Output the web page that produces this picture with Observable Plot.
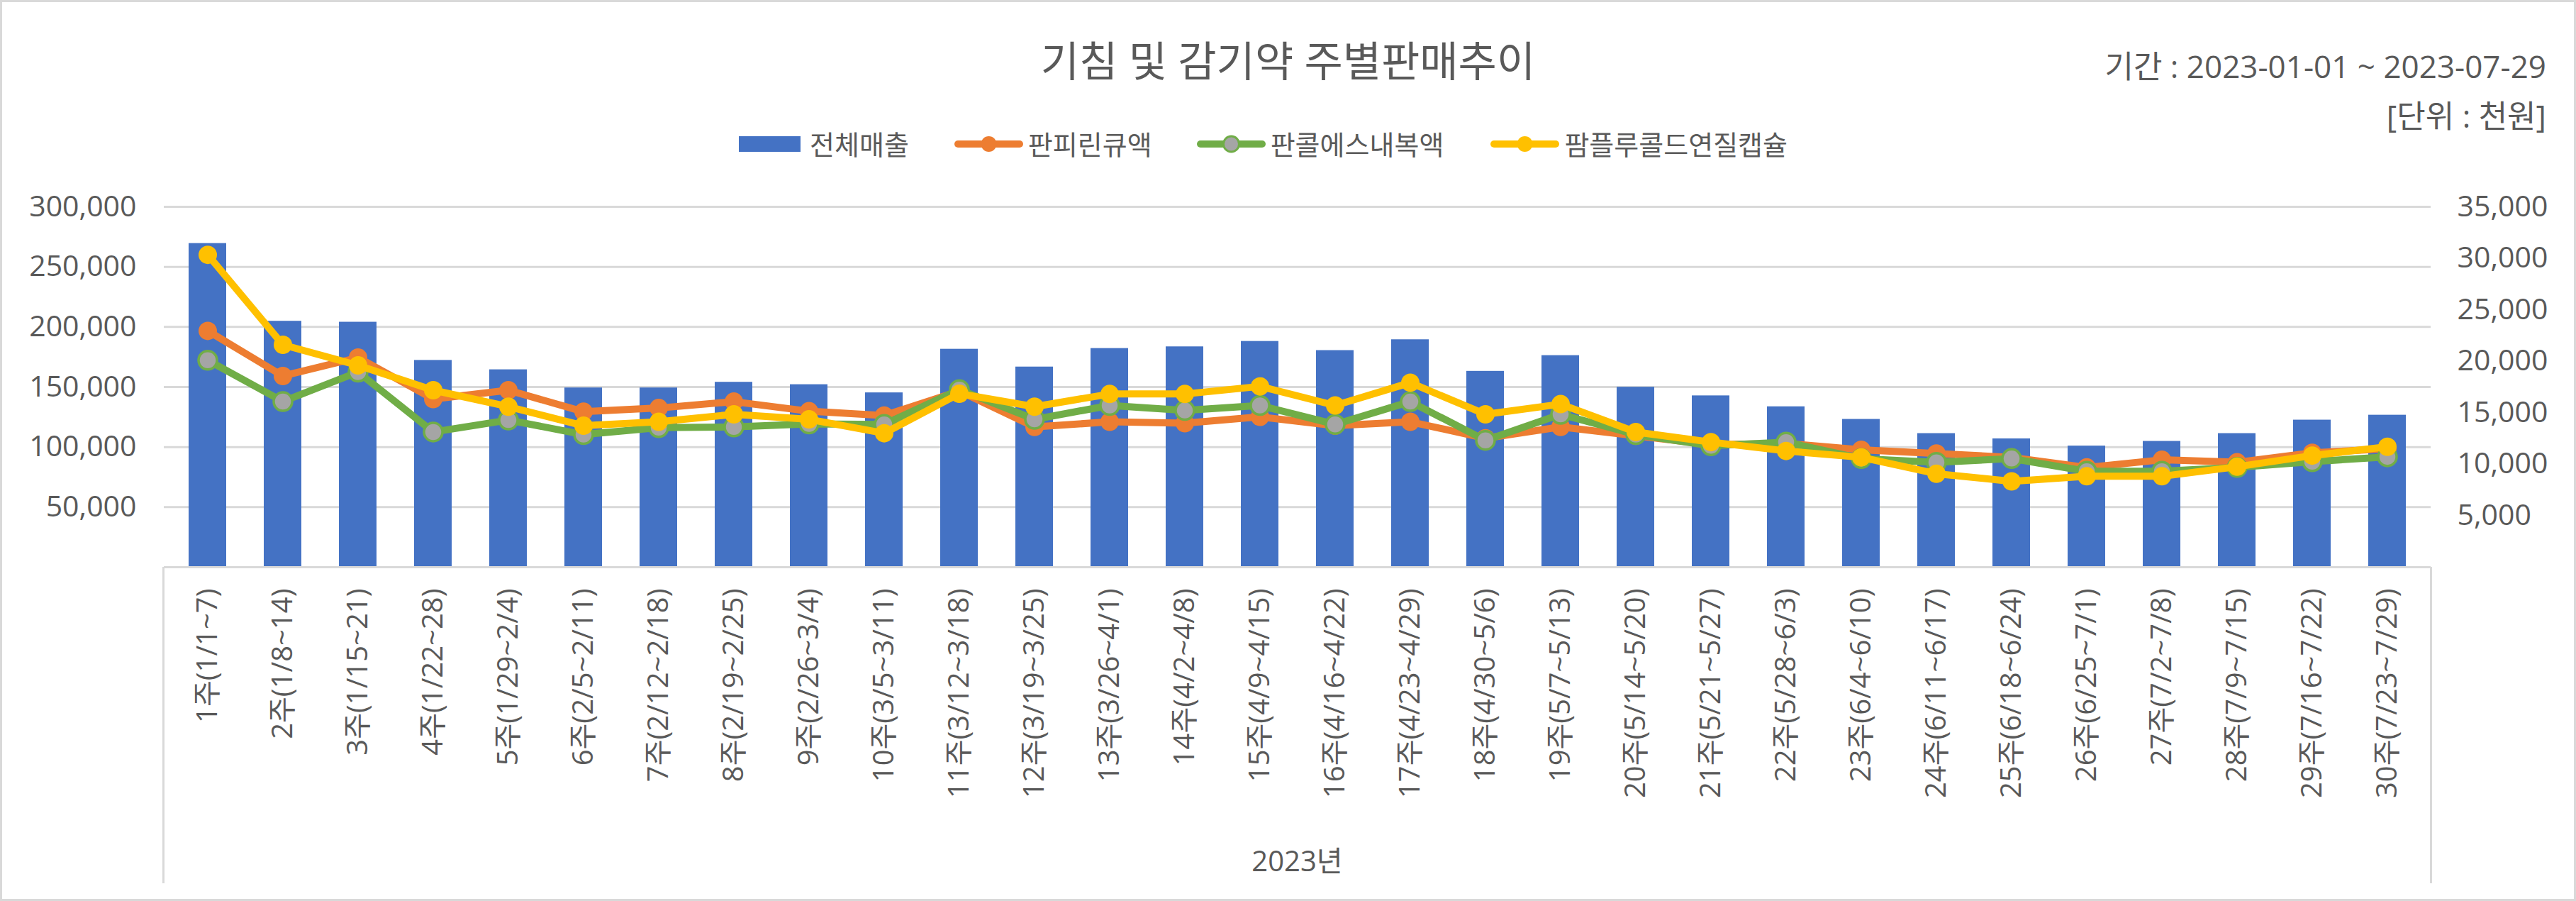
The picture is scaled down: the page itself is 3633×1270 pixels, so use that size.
<!DOCTYPE html>
<html>
<head>
<meta charset="utf-8">
<script src="https://cdn.jsdelivr.net/npm/d3@7"></script>
<script src="https://cdn.jsdelivr.net/npm/@observablehq/plot@0.6"></script>
<style>
  body { margin: 0; background: #fff; }
  #page { position: relative; width: 3633px; height: 1270px; overflow: hidden; background: #fff;
          font-family: "Open Sans", "Noto Sans CJK KR", sans-serif; color: #595959; }
  #frame { position: absolute; left: 0; top: 0; width: 3633px; height: 1270px; box-sizing: border-box;
           border: 3px solid #d9d9d9; pointer-events: none; }
  .txt { position: absolute; white-space: nowrap; line-height: 1; }
  #title { left: 0; width: 3633px; text-align: center; font-size: 59px; top: 56px; padding-left: 0px; }
  #period { right: 42px; font-size: 44px; top: 71px; }
  #unit { right: 42px; font-size: 44px; top: 141px; }
  #legend { position: absolute; left: 1042px; top: 183px; height: 40px; display: flex; align-items: center; font-size: 38px; }
  .item { display: flex; align-items: center; }
  .item span { line-height: 1; }
  #chart { position: absolute; left: 0; top: 250px; }
  #catbox { position: absolute; left: 229px; top: 799px; width: 3201px; height: 446px; box-sizing: border-box;
            border-left: 3px solid #d9d9d9; border-right: 3px solid #d9d9d9; }
  #year { position: absolute; left: 0; width: 100%; text-align: center; top: 394px; font-size: 40px; line-height: 1; }
</style>
</head>
<body>
<div id="page">
  <div id="title" class="txt">기침 및 감기약 주별판매추이</div>
  <div id="period" class="txt">기간 : 2023-01-01 ~ 2023-07-29</div>
  <div id="unit" class="txt">[단위 : 천원]</div>
  <div id="legend"></div>
  <div id="chart"></div>
  <div id="catbox"><div id="year">2023년</div></div>
  <div id="frame"></div>
</div>
<script>
// ---- data ----
const weeks = [
  "1주(1/1~7)", "2주(1/8~14)", "3주(1/15~21)", "4주(1/22~28)", "5주(1/29~2/4)",
  "6주(2/5~2/11)", "7주(2/12~2/18)", "8주(2/19~2/25)", "9주(2/26~3/4)", "10주(3/5~3/11)",
  "11주(3/12~3/18)", "12주(3/19~3/25)", "13주(3/26~4/1)", "14주(4/2~4/8)", "15주(4/9~4/15)",
  "16주(4/16~4/22)", "17주(4/23~4/29)", "18주(4/30~5/6)", "19주(5/7~5/13)", "20주(5/14~5/20)",
  "21주(5/21~5/27)", "22주(5/28~6/3)", "23주(6/4~6/10)", "24주(6/11~6/17)", "25주(6/18~6/24)",
  "26주(6/25~7/1)", "27주(7/2~7/8)", "28주(7/9~7/15)", "29주(7/16~7/22)", "30주(7/23~7/29)"
];
const totalSales = [
  269500, 204800, 204000, 172200, 164400, 149300, 149300, 154000, 152000, 145200,
  181500, 166700, 182100, 183500, 188000, 180400, 189400, 163100, 176200, 149900,
  142700, 133600, 123100, 111300, 106900, 100900, 104800, 111300, 122500, 126600
];
const panpirin = [
  22950, 18570, 20360, 16330, 17190, 15100, 15460, 16080, 15150, 14730,
  17100, 13620, 14120, 13990, 14600, 13740, 14120, 12520, 13620, 12760,
  11900, 12020, 11410, 11040, 10670, 9690, 10430, 10190, 11110, 11500
];
const pancol = [
  20100, 16090, 18950, 13130, 14290, 12880, 13550, 13620, 13920, 13870,
  17250, 14360, 15710, 15220, 15710, 13870, 16080, 12320, 14850, 12880,
  11800, 12150, 10550, 10180, 10550, 9320, 9320, 9690, 10250, 10720
];
const pamflu = [
  30340, 21600, 19600, 17190, 15590, 13740, 14120, 14850, 14360, 13010,
  16850, 15590, 16820, 16820, 17560, 15710, 17920, 14850, 15840, 13130,
  12150, 11290, 10670, 9080, 8340, 8830, 8830, 9760, 10840, 11700
];
const seriesNames = ["전체매출", "판피린큐액", "판콜에스내복액", "팜플루콜드연질캡슐"];
const leftTicks = [50000, 100000, 150000, 200000, 250000, 300000];
const rightTicks = [5000, 10000, 15000, 20000, 25000, 30000, 35000];
const leftMax = 300000, rightMax = 35000;

// ---- styles ----
const barColor = "#4472C4";
const lineSeries = [
  {name: seriesNames[1], values: panpirin, stroke: "#ED7D31", fill: "#ED7D31"},
  {name: seriesNames[2], values: pancol, stroke: "#70AD47", fill: "#A5A5A5"},
  {name: seriesNames[3], values: pamflu, stroke: "#FFC000", fill: "#FFC000"}
];
const ratio = leftMax / rightMax;
const fmt = d3.format(",");

const barRows = weeks.map((w, i) => ({week: w, value: totalSales[i]}));

const lineMarks = [];
for (const s of lineSeries) {
  const rows = weeks.map((w, i) => ({week: w, value: s.values[i]}));
  lineMarks.push(Plot.line(rows, {x: "week", y: d => d.value * ratio, stroke: s.stroke, strokeWidth: 10, strokeLinejoin: "round", strokeLinecap: "round"}));
  lineMarks.push(Plot.dot(rows, {x: "week", y: d => d.value * ratio, r: 13, fill: s.fill, stroke: s.stroke, strokeWidth: s.fill === s.stroke ? 0 : 3.5}));
}

const chart = Plot.plot({
  width: 3633,
  height: 1020,
  marginTop: 41,
  marginBottom: 471,
  marginLeft: 231,
  marginRight: 205,
  style: {fontFamily: '"Open Sans", "Noto Sans CJK KR", sans-serif', fontSize: "41px", color: "#595959", background: "transparent"},
  x: {domain: weeks, type: "band", paddingInner: 0.5, paddingOuter: 0.25, label: null},
  y: {domain: [0, leftMax], label: null},
  marks: [
    Plot.gridY(leftTicks, {stroke: "#d9d9d9", strokeOpacity: 1, strokeWidth: 3}),
    Plot.axisY(leftTicks, {anchor: "left", tickSize: 0, tickPadding: 39, tickFormat: fmt, label: null}),
    Plot.axisY(rightTicks.map(v => v * ratio), {anchor: "right", tickSize: 0, tickPadding: 37, tickFormat: d => fmt(Math.round(d / ratio)), label: null}),
    Plot.axisX({tickSize: 0, tickPadding: 30, tickRotate: -90, label: null, fontSize: 40}),
    Plot.barY(barRows, {x: "week", y: "value", fill: barColor}),
    Plot.ruleY([0], {stroke: "#d9d9d9", strokeWidth: 3}),
    ...lineMarks
  ]
});
document.getElementById("chart").appendChild(chart);

// ---- legend ----
const legend = document.getElementById("legend");
function addItem(swatchSvg, label, gapBefore, gapText) {
  const item = document.createElement("div");
  item.className = "item";
  item.style.marginLeft = gapBefore + "px";
  item.innerHTML = swatchSvg + `<span style="margin-left:${gapText}px">${label}</span>`;
  legend.appendChild(item);
}
addItem(`<svg width="87" height="22"><rect x="0" y="0" width="87" height="22" fill="${barColor}"/></svg>`, seriesNames[0], 0, 13);
const gaps = [64, 63, 66];
lineSeries.forEach((s, i) => {
  const sw = `<svg width="97" height="30"><line x1="5" y1="15" x2="92" y2="15" stroke="${s.stroke}" stroke-width="10" stroke-linecap="round"/>` +
    `<circle cx="48.5" cy="15" r="11" fill="${s.fill}" stroke="${s.stroke}" stroke-width="${s.fill === s.stroke ? 0 : 3}"/></svg>`;
  addItem(sw, s.name, gaps[i], 7);
});
</script>
</body>
</html>
